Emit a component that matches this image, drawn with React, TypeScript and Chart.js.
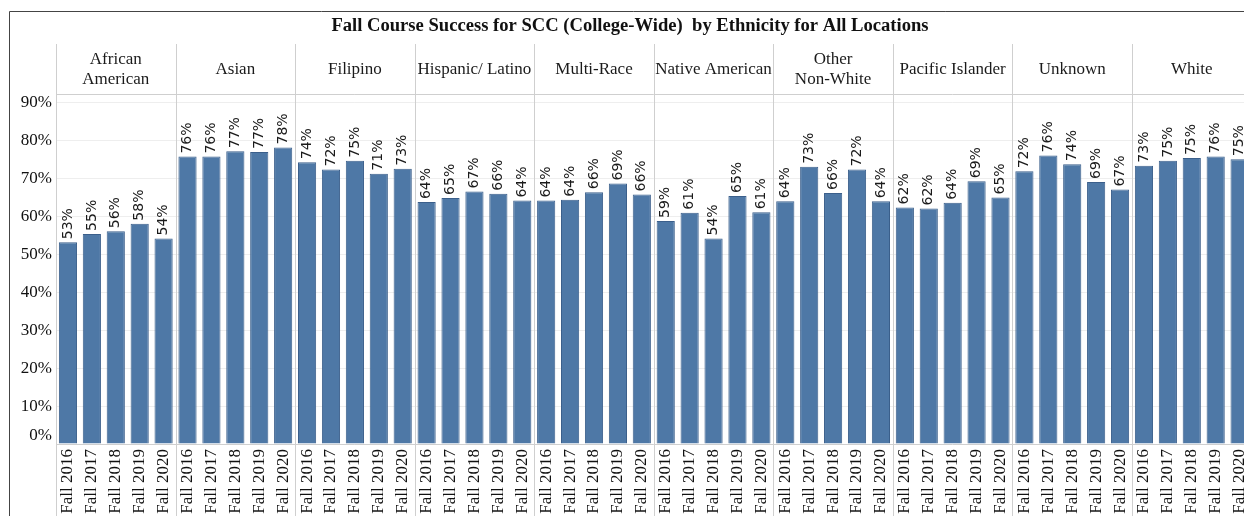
import React, { useEffect, useRef } from 'react';
import { Chart, registerables } from 'chart.js';

Chart.register(...registerables);

const chartTitle = 'Fall Course Success for SCC (College-Wide)  by Ethnicity for All Locations';

const groupNames: string[][] = [
  ['African', 'American'],
  ['Asian'],
  ['Filipino'],
  ['Hispanic/ Latino'],
  ['Multi-Race'],
  ['Native American'],
  ['Other', 'Non-White'],
  ['Pacific Islander'],
  ['Unknown'],
  ['White'],
];

const years = ['Fall 2016', 'Fall 2017', 'Fall 2018', 'Fall 2019', 'Fall 2020'];

const africanAmerican = [53.2, 55.4, 56.1, 58.1, 54.2];
const asian = [75.8, 75.8, 77.2, 77.0, 78.2];
const filipino = [74.3, 72.4, 74.7, 71.3, 72.6];
const hispanicLatino = [63.8, 64.9, 66.6, 66.0, 64.2];
const multiRace = [64.2, 64.4, 66.4, 68.7, 65.8];
const nativeAmerican = [58.8, 61.0, 54.2, 65.4, 61.1];
const otherNonWhite = [64.0, 73.1, 66.2, 72.4, 64.0];
const pacificIslander = [62.4, 62.1, 63.6, 69.3, 65.0];
const unknown = [71.9, 76.1, 73.8, 69.1, 67.1];
const white = [73.4, 74.7, 75.4, 75.8, 75.1];

const groupValues = [
  africanAmerican, asian, filipino, hispanicLatino, multiRace,
  nativeAmerican, otherNonWhite, pacificIslander, unknown, white,
];

const yTicks = [0, 10, 20, 30, 40, 50, 60, 70, 80, 90];
const yMax = 92.3;

const SERIF = '"Liberation Serif", "Times New Roman", serif';
const SANS = '"DejaVu Sans", Tahoma, Verdana, sans-serif';

const W = 1257;
const H = 516;

export default function App() {
  const ref = useRef<HTMLCanvasElement | null>(null);

  useEffect(() => {
    const canvas = ref.current;
    if (!canvas) return;
    const perGroup = years.length;
    const labels = groupNames.flatMap(() => years);
    const values = groupValues.flat();

    const boundaries = (chart: any) => {
      const x = chart.scales.x;
      const area = chart.chartArea;
      const b: number[] = [area.left];
      for (let g = 1; g < groupNames.length; g++) {
        const i = g * perGroup;
        b.push((x.getPixelForValue(i - 1) + x.getPixelForValue(i)) / 2);
      }
      b.push(area.right);
      return b;
    };

    const decor = {
      id: 'decor',
      beforeDatasetsDraw(chart: any) {
        const ctx = chart.ctx;
        const area = chart.chartArea;
        const y = chart.scales.y;
        ctx.save();
        ctx.strokeStyle = '#cfcfcf';
        ctx.lineWidth = 1;
        const b = boundaries(chart);
        ctx.beginPath();
        b.forEach((bx) => {
          const px = Math.round(bx) + 0.5;
          ctx.moveTo(px, 44);
          ctx.lineTo(px, H);
        });
        const top = Math.round(area.top) + 0.5;
        ctx.moveTo(area.left, top);
        ctx.lineTo(area.right, top);
        const base = Math.round(y.getPixelForValue(0)) + 0.5;
        ctx.moveTo(area.left, base);
        ctx.lineTo(area.right, base);
        ctx.stroke();
        ctx.restore();
      },
      afterDatasetsDraw(chart: any) {
        const ctx = chart.ctx;
        const meta = chart.getDatasetMeta(0);
        ctx.save();
        ctx.fillStyle = '#1a1a1a';
        ctx.font = `14px ${SANS}`;
        ctx.textAlign = 'left';
        ctx.textBaseline = 'middle';
        meta.data.forEach((bar: any, i: number) => {
          const v = values[i];
          ctx.save();
          ctx.translate(bar.x, bar.y - 3);
          ctx.rotate(-Math.PI / 2);
          ctx.fillText(Math.round(v) + '%', 0, 0);
          ctx.restore();
        });
        ctx.restore();
      },
      afterDraw(chart: any) {
        const ctx = chart.ctx;
        const y = chart.scales.y;
        ctx.save();
        // frame
        ctx.strokeStyle = '#444';
        ctx.lineWidth = 1;
        ctx.beginPath();
        ctx.moveTo(9.5, H);
        ctx.lineTo(9.5, 11.5);
        ctx.lineTo(W, 11.5);
        ctx.stroke();
        // title
        ctx.fillStyle = '#111';
        ctx.font = `bold 18.6px ${SERIF}`;
        ctx.textAlign = 'center';
        ctx.textBaseline = 'middle';
        ctx.fillText(chartTitle, 630, 26);
        // group headers
        const b = boundaries(chart);
        ctx.font = `17px ${SERIF}`;
        ctx.fillStyle = '#1a1a1a';
        groupNames.forEach((lines, g) => {
          const cx = (b[g] + b[g + 1]) / 2;
          const lh = 20;
          const startY = 69.5 - ((lines.length - 1) * lh) / 2;
          lines.forEach((ln, k) => ctx.fillText(ln, cx, startY + k * lh));
        });
        // 0% label (lifted inside the pane)
        ctx.textAlign = 'right';
        ctx.fillStyle = '#111';
        ctx.fillText('0%', y.left + y.width - 4, y.getPixelForValue(0) - 8);
        ctx.restore();
      },
    };

    const chart = new Chart(canvas, {
      type: 'bar',
      data: {
        labels,
        datasets: [
          {
            data: values,
            backgroundColor: '#4e78a6',
            borderColor: '#3b5f8b',
            borderWidth: 1,
            barPercentage: 0.76,
            categoryPercentage: 1,
          },
        ],
      },
      options: {
        responsive: false,
        animation: false,
        devicePixelRatio: 1,
        layout: { padding: { top: 94, left: 0, right: 0, bottom: 0 }, autoPadding: false },
        plugins: {
          legend: { display: false },
          tooltip: { enabled: false },
          title: { display: false },
        },
        scales: {
          x: {
            type: 'category',
            offset: true,
            grid: { display: false },
            border: { display: false },
            ticks: {
              minRotation: 90,
              maxRotation: 90,
              autoSkip: false,
              padding: -3,
              color: '#111',
              font: { family: SERIF, size: 17 },
            },
            afterFit: (s: any) => {
              s.height = 72;
            },
          },
          y: {
            min: 0,
            max: yMax,
            afterBuildTicks: (s: any) => {
              s.ticks = yTicks.map((v) => ({ value: v }));
            },
            grid: {
              color: (c: any) => (c.tick && c.tick.value === 0 ? 'rgba(0,0,0,0)' : '#eeeeee'),
              drawTicks: false,
            },
            border: { display: false },
            ticks: {
              padding: 4,
              color: '#111',
              font: { family: SERIF, size: 17 },
              callback: (v: any) => (Number(v) === 0 ? '' : v + '%'),
            },
            afterFit: (s: any) => {
              s.width = 56;
            },
          },
        },
      },
      plugins: [decor],
    });
    return () => chart.destroy();
  }, []);

  return (
    <div
      style={{
        position: 'fixed',
        left: 0,
        top: 0,
        width: 1244,
        height: 516,
        overflow: 'hidden',
        background: '#fff',
      }}
    >
      <canvas ref={ref} width={W} height={H} style={{ display: 'block', width: W, height: H }} />
    </div>
  );
}
